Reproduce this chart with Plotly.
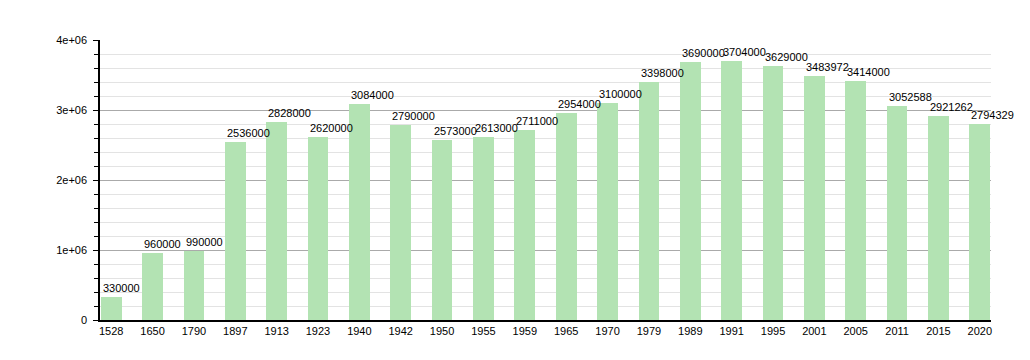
import plotly.graph_objects as go

years = ["1528", "1650", "1790", "1897", "1913", "1923", "1940", "1942", "1950", "1955", "1959",
         "1965", "1970", "1979", "1989", "1991", "1995", "2001", "2005", "2011", "2015", "2020"]
population = [330000, 960000, 990000, 2536000, 2828000, 2620000, 3084000, 2790000, 2573000,
              2613000, 2711000, 2954000, 3100000, 3398000, 3690000, 3704000, 3629000, 3483972,
              3414000, 3052588, 2921262, 2794329]
y_tickvals = [0, 1000000, 2000000, 3000000, 4000000]
y_ticktext = ["0", "1e+06", "2e+06", "3e+06", "4e+06"]

idx = list(range(len(years)))
font = "Liberation Sans, Arial, sans-serif"

fig = go.Figure()
fig.add_trace(go.Bar(x=idx, y=population, width=0.5,
                     marker=dict(color="rgb(179,227,179)", line=dict(width=0)),
                     hoverinfo="x+y"))

for i, v in zip(idx, population):
    fig.add_annotation(x=i - 0.25, y=v, text=str(v), showarrow=False,
                       xanchor="left", yanchor="bottom", yshift=1,
                       font=dict(family=font, size=11, color="#000"))

fig.update_layout(
    width=1014, height=344,
    margin=dict(l=92, r=31, t=32, b=32),
    paper_bgcolor="white", plot_bgcolor="white",
    showlegend=False,
    font=dict(family=font, size=11, color="#000"),
    bargap=0,
)
fig.update_xaxes(range=[-0.27, 21.27], tickvals=idx, ticktext=years,
                 showgrid=False, showline=True, linecolor="#000", linewidth=1.5,
                 ticks="", zeroline=False, tickfont=dict(size=11),
                 ticklabelstandoff=0)
fig.update_yaxes(range=[0, 4000000], tickvals=y_tickvals, ticktext=y_ticktext,
                 showgrid=True, gridcolor="#aaaaaa", gridwidth=1,
                 showline=True, linecolor="#000", linewidth=1.5,
                 ticks="outside", ticklen=5, tickcolor="#000",
                 zeroline=False, tickfont=dict(size=11), ticklabelstandoff=4,
                 minor=dict(dtick=200000, showgrid=True, gridcolor="#e3e3e3",
                            ticks="outside", ticklen=4, tickcolor="#000"))

fig.write_html("out.html")
